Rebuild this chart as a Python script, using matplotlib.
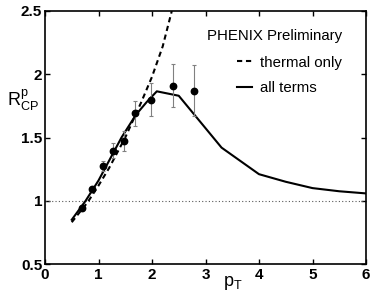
import numpy as np
import matplotlib
matplotlib.use("Agg")
import matplotlib.pyplot as plt
from matplotlib.ticker import FormatStrFormatter

plt.rcParams["font.family"] = ["Liberation Sans", "DejaVu Sans"]
plt.rcParams["mathtext.fontset"] = "custom"
plt.rcParams["mathtext.rm"] = "Liberation Sans"

# PHENIX preliminary proton R_CP
pt_data = [0.69, 0.88, 1.09, 1.28, 1.48, 1.69, 1.98, 2.40, 2.79]
rcp_data = [0.945, 1.09, 1.277, 1.395, 1.474, 1.69, 1.80, 1.91, 1.87]
rcp_err = [0.015, 0.02, 0.04, 0.06, 0.08, 0.10, 0.13, 0.17, 0.20]

# thermal only
pt_th = [0.5, 0.8, 1.0, 1.2, 1.5, 1.8, 2.0, 2.2, 2.37]
rcp_th = [0.83, 0.99, 1.12, 1.26, 1.50, 1.78, 1.98, 2.22, 2.5]

# all terms
pt_all = [0.5, 0.76, 1.0, 1.43, 1.7, 1.9, 2.09, 2.5, 3.3, 3.7, 4.0, 4.5, 5.0, 5.5, 6.0]
rcp_all = [0.85, 1.0, 1.16, 1.5, 1.68, 1.78, 1.865, 1.83, 1.42, 1.30, 1.21, 1.15,
           1.10, 1.075, 1.058]

fig = plt.figure(figsize=(3.74, 3.0), dpi=100)
ax = fig.add_axes([45 / 374, 1 - 264 / 300, 321 / 374, 253 / 300])

ax.axhline(1.0, color="0.35", ls=(0, (1, 2)), lw=0.8)
ax.plot(pt_th, rcp_th, color="k", lw=1.5, ls=(0, (2.5, 1.8)), label="thermal only")
ax.plot(pt_all, rcp_all, color="k", lw=1.5, label="all terms")
ax.errorbar(pt_data, rcp_data, yerr=rcp_err, fmt="none", ecolor="0.5",
            elinewidth=0.8, capsize=1.2, capthick=0.8)
ax.plot(pt_data, rcp_data, "o", color="k", ms=4.6)

ax.set_xlim(0, 6)
ax.set_ylim(0.5, 2.5)
ax.set_xticks(range(7))
ax.set_yticks([0.5, 1, 1.5, 2, 2.5])
ax.yaxis.set_major_formatter(FormatStrFormatter("%g"))
ax.tick_params(direction="in", top=True, right=True, length=3.5, width=1,
               labelsize=11, pad=2)
ax.tick_params(axis="x", pad=3)
for lab in ax.get_xticklabels() + ax.get_yticklabels():
    lab.set_fontweight("bold")
for s in ax.spines.values():
    s.set_linewidth(1.2)

fig.text(233 / 374, 1 - 283 / 300, r"$\mathregular{p_T}$", fontsize=13,
         ha="center", va="center")
fig.text(23 / 374, 1 - 100 / 300, r"$\mathregular{R^{p}_{CP}}$", fontsize=13,
         ha="center", va="center")

leg = ax.legend(title="PHENIX Preliminary", frameon=False, loc="upper right",
                bbox_to_anchor=((342 - 45) / 321, (264 - 29) / 253),
                borderaxespad=0, borderpad=0, fontsize=10.8, title_fontsize=10.8,
                handlelength=1.0, handletextpad=0.55, labelspacing=0.8,
                alignment="right")
leg._legend_box.sep = 9

fig.savefig("out.png", dpi=100)
